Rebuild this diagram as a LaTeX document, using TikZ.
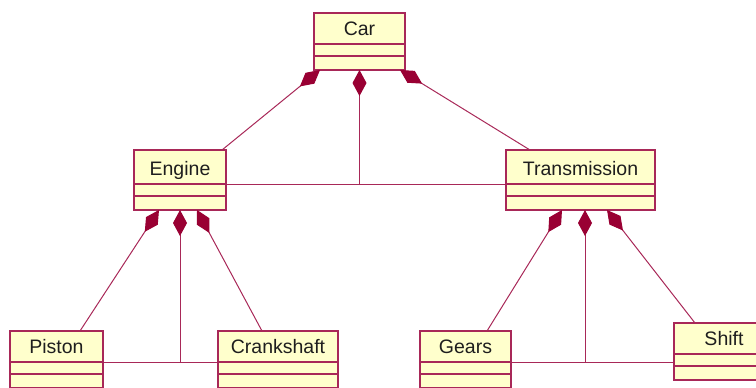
\documentclass[tikz,border=0pt]{standalone}
\usepackage{fontspec}
\setmainfont{Liberation Sans}
\usetikzlibrary{arrows.meta}

\definecolor{umlline}{RGB}{168,40,88}
\definecolor{umldiamond}{RGB}{153,0,51}
\definecolor{umlfill}{RGB}{255,255,204}
\definecolor{umltext}{RGB}{30,30,30}

\tikzset{
  classbox/.style = {draw = umlline, fill = umlfill, line width = 1.3pt,
    inner sep = 0pt, outer sep = 0pt},
  classname/.style = {font = \fontsize{19.5}{22}\selectfont, text = umltext, anchor = base},
  classsep/.style = {draw = umlline, line width = 1.3pt},
  link/.style = {draw = umlline, line width = 1pt},
  comp/.style = {link, {Diamond[length = 26pt, width = 14pt, color = umldiamond, fill = umldiamond]}-}
}

% name, x, y, width, name height, text
\newcommand\umlclass[6]{
  \node [classbox, minimum width = #4pt, minimum height = #5pt + 26pt, anchor = north west] (#1) at (#2, #3) {};
  \node [classname] (#1-name) at ([yshift = -#5pt + 8.5pt]#1.north) {#6};
  \draw [classsep] ([yshift = -#5pt]#1.north west) coordinate (#1-sep) -- ([yshift = -#5pt]#1.north east);
  \draw [classsep] ([yshift = -#5pt - 12pt]#1.north west) -- ([yshift = -#5pt - 12pt]#1.north east);
}

\begin{document}
\begin{tikzpicture}[x = 1pt, y = 1pt]
  \useasboundingbox (0, 0) rectangle (756, -388);

  \umlclass{car}{314}{-13}{91}{31}{Car}
  \umlclass{engine}{134}{-150}{92}{34}{Engine}
  \umlclass{transmission}{506}{-150}{149}{34}{Transmission}
  \umlclass{piston}{10}{-331}{93}{31}{Piston}
  \umlclass{crankshaft}{218}{-331}{120}{31}{Crankshaft}
  \umlclass{gears}{420}{-331}{91}{31}{Gears}
  \umlclass{shift}{674}{-323}{100}{31}{Shift}

  \draw [comp] ([xshift = 6]car.south west) -- ([xshift = -4]engine.north east);
  \draw [comp] (car.south) -- (car.south |- engine-sep);
  \draw [comp] ([xshift = -5]car.south east) -- ([xshift = 24]transmission.north west);
  \draw [link] (engine-sep -| engine.east) -- (engine-sep -| transmission.west);

  \draw [comp] ([xshift = 25]engine.south west) -- ([xshift = 70]piston.north west);
  \draw [comp] (engine.south) -- (engine.south |- piston-sep);
  \draw [comp] ([xshift = -29]engine.south east) -- ([xshift = 44]crankshaft.north west);
  \draw [link] (piston-sep -| piston.east) -- (piston-sep -| crankshaft.west);

  \draw [comp] ([xshift = 56]transmission.south west) -- ([xshift = 67]gears.north west);
  \draw [comp] ([xshift = 79]transmission.south west) -- ([xshift = 79]transmission.south west |- gears-sep);
  \draw [comp] ([xshift = -48]transmission.south east) -- ([xshift = 21]shift.north west);
  \draw [link] (gears-sep -| gears.east) -- (gears-sep -| shift.west);
\end{tikzpicture}
\end{document}
